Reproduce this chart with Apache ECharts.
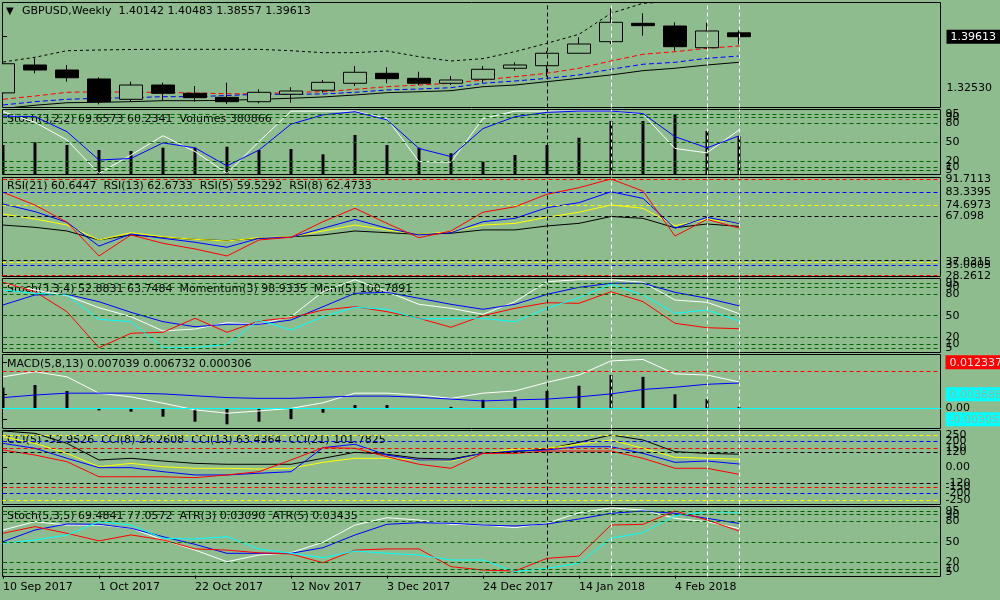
<!DOCTYPE html>
<html>
<head>
<meta charset="utf-8">
<script src="https://cdn.jsdelivr.net/npm/echarts@6/dist/echarts.min.js"></script>
<style>
html,body{margin:0;padding:0;background:#8fbc8f;}
#chart{width:1000px;height:600px;}
</style>
</head>
<body>
<div id="chart"></div>
<script>
// ---------- data ----------
const dates = ['10 Sep 2017','17 Sep 2017','24 Sep 2017','1 Oct 2017','8 Oct 2017','15 Oct 2017','22 Oct 2017','29 Oct 2017','5 Nov 2017','12 Nov 2017','19 Nov 2017','26 Nov 2017','3 Dec 2017','10 Dec 2017','17 Dec 2017','24 Dec 2017','31 Dec 2017','7 Jan 2018','14 Jan 2018','21 Jan 2018','28 Jan 2018','4 Feb 2018','11 Feb 2018','18 Feb 2018'];
const dateTickIdx = [0,3,6,9,12,15,18,21];
const markerWeeksBlack = [17];
const markerWeeksWhite = [19,22,23];

const open  = [1.3190,1.3573,1.3504,1.3381,1.3102,1.3298,1.3184,1.3129,1.3069,1.3171,1.3226,1.3322,1.3459,1.3390,1.3322,1.3377,1.3528,1.3563,1.3734,1.3893,1.4145,1.4108,1.3810,1.40142];
const high  = [1.3615,1.3665,1.3573,1.3404,1.3344,1.3330,1.3285,1.3330,1.3239,1.3267,1.3367,1.3559,1.3541,1.3481,1.3422,1.3559,1.3610,1.3765,1.3955,1.4351,1.4283,1.4159,1.4154,1.40483];
const low   = [1.3170,1.3459,1.3344,1.3033,1.3069,1.3092,1.3069,1.3037,1.3047,1.3055,1.3193,1.3285,1.3322,1.3298,1.3298,1.3330,1.3495,1.3412,1.3734,1.3861,1.3975,1.3769,1.3792,1.38557];
const close = [1.3590,1.3504,1.3398,1.3069,1.3298,1.3184,1.3124,1.3069,1.3198,1.3216,1.3335,1.3473,1.3385,1.3322,1.3367,1.3514,1.3573,1.3734,1.3861,1.4159,1.4113,1.3824,1.4040,1.39613];

const bandUpper = [1.3614,1.3679,1.3769,1.3779,1.3786,1.3788,1.3788,1.3788,1.3788,1.3769,1.3742,1.3742,1.3765,1.3687,1.3628,1.3660,1.3756,1.3871,1.3994,1.4283,1.4420,1.4445,1.4495,1.4510];
const maRed   = [1.3102,1.3147,1.3198,1.3206,1.3198,1.3198,1.3188,1.3179,1.3175,1.3198,1.3206,1.3239,1.3275,1.3298,1.3322,1.3367,1.3412,1.3459,1.3528,1.3628,1.3720,1.3756,1.3802,1.3834];
const maBlue  = [1.3024,1.3069,1.3102,1.3116,1.3124,1.3138,1.3138,1.3154,1.3171,1.3171,1.3175,1.3198,1.3230,1.3243,1.3261,1.3322,1.3353,1.3390,1.3436,1.3514,1.3583,1.3610,1.3665,1.3696];
const maBlack = [1.2976,1.3020,1.3055,1.3061,1.3069,1.3083,1.3083,1.3088,1.3102,1.3116,1.3134,1.3161,1.3193,1.3206,1.3220,1.3275,1.3298,1.3344,1.3390,1.3436,1.3495,1.3528,1.3573,1.3610];
const priceTicks = [1.32530, 1.39613];

const stoch1K = [99,82,53.6,0,29.5,60.5,35,0,51,100,100,100,88,19,18,88,100,100,100,100,95,40,33,69.6573];
const stoch1D = [92,91,67,21.5,24,49,41,12,37.5,79,94,99,86,40,27,72,91,98,100,100,96,59,41,60.2341];
const volumes = [290660,317700,290660,240550,230500,263600,263600,273600,240550,250570,197450,390890,290660,263600,207470,123280,190430,290660,363830,531200,531200,598350,430970,380866];
const stochLevels = [95,90,80,50,20,10,5];
// label order chosen so first/last labels never collide with their neighbours
const stochTicks = [50,95,90,10,5,20,80];

const rsi5  = [83.0,74.6,63.3,41.2,55.0,49.5,45.8,41.2,51.7,53.5,63.7,72.5,62.6,53.2,57.6,69.9,73.5,81.7,86.0,91.71,83.8,54.3,65.2,59.5292];
const rsi8  = [75.3,70.3,63.3,47.7,55.6,52.8,50.2,46.9,52.8,53.5,59.4,65.2,59.4,55.0,56.5,63.7,65.9,72.9,76.2,83.34,79.0,59.4,66.6,62.4733];
const rsi13 = [68.7,65.5,61.5,51.7,56.5,53.8,52.1,51.0,53.2,53.8,57.6,61.5,58.3,55.4,57.1,61.5,62.6,66.6,69.9,74.70,72.5,61.1,65.2,62.6733];
const rsi21 = [61.5,60.0,57.6,51.7,55.0,53.5,52.1,51.2,52.8,53.8,55.0,57.6,56.5,55.4,56.1,58.3,58.3,60.9,62.6,67.10,65.9,59.7,62.2,60.6447];
const rsiLevelsRed = [91.7113, 28.2612];
const rsiLevelsBlue = [83.3395, 35.0605];
const rsiLevelsYellow = [74.6973, 37.0315];
const rsiLevelsBlack = [67.098, 38.5];
const rsiTicks = [67.098, 91.7113, 83.3395, 37.0315, 35.0605, 28.2612, 74.6973];

const stoch2K = [95,85.7,77.8,61.1,48.6,28.8,31.5,40.3,38.0,48.6,83.3,100,83.3,65.8,60.3,51.9,69.4,97.2,100,100,96.4,71.8,68.6,52.8831];
const stoch2D = [64.9,78.8,79.7,69.4,54.7,41.7,34.7,38.0,38.0,44.0,62.5,81.1,82.5,74.2,65.8,58.9,65.8,79.7,89.4,95,95,82.5,74.2,63.7484];
const mom3 = [105.69,104.32,101.41,96.17,98.27,98.41,100.45,98.41,100.06,100.54,101.66,102.14,101.41,100.45,99.14,100.83,101.90,102.72,102.63,104.32,102.87,99.72,99.08,98.9335];
const mom5 = [105.12,104.66,104.42,101.00,100.67,97.01,97.01,97.49,100.90,99.50,101.37,102.69,102.41,101.05,101.14,101.14,100.67,102.55,104.04,105.93,104.42,101.85,102.31,100.7891];

const macdMain   = [0.0084,0.0098,0.0084,0.0040,0.0030,0.0013,-0.0005,-0.0014,-0.0008,-0.0001,0.0014,0.0040,0.0040,0.0035,0.0026,0.0040,0.0046,0.0069,0.0089,0.0127,0.0131,0.0092,0.0089,0.007039];
const macdSignal = [0.0028,0.0035,0.0040,0.0040,0.0040,0.0038,0.0033,0.0028,0.0026,0.0026,0.0029,0.0032,0.0032,0.0029,0.0024,0.0019,0.0022,0.0024,0.0030,0.0038,0.0050,0.0056,0.0064,0.006732];
const macdHist   = [0.0055,0.0062,0.00458,-0.00063,-0.0010,-0.00234,-0.0037,-0.0044,-0.0037,-0.0030,-0.00126,0.0008,0.0008,-0.0001,0.0003,0.0022,0.0030,0.0046,0.0060,0.0089,0.0084,0.0037,0.0024,0.000306];
const macdTicks = [0, 0.012337, -0.003054, 0.003688];

const cci21 = [280,262,185,57,70,49,31,24,24,24,70,116,101,70,65,108,121,141,193,249,211,121,108,101.7825];
const cci13 = [236,185,108,5,31,5,-7,-7,-12,-7,39,70,70,57,49,108,141,147,178,211,147,78,70,63.4364];
const cci8  = [185,147,70,-2,-2,-33,-58,-58,-45,-33,152,178,95,57,57,108,126,134,159,159,108,39,49,26.2608];
const cci5  = [134,95,44,-72,-72,-72,-79,-58,-33,57,152,147,82,24,-7,108,108,126,126,126,70,-7,-7,-52.9526];
const cciTicks = [0,250,200,150,-120,-150,-200,-250,120];

const stoch3K = [67.4,79.6,74.7,74.7,69.9,52.6,37.8,20.5,30.4,33.8,49.2,74.7,85.5,82.1,75.8,74.7,70.8,77.3,92.9,100,96.9,84.6,79.6,69.4841];
const stoch3D = [50.1,67.4,76.2,75.8,69.9,57.5,46.2,32.9,32.9,32.9,41.2,60.0,75.8,78.1,77.3,74.7,73.3,76.2,83.6,92.0,95.4,92.0,84.6,77.0572];
const atr3 = [0.0299,0.0328,0.0299,0.0266,0.0292,0.0270,0.0231,0.0226,0.0214,0.0209,0.0171,0.0226,0.0231,0.0231,0.0154,0.0139,0.0135,0.0190,0.0200,0.0335,0.0338,0.0396,0.0357,0.03090];
const atr5 = [0.02555,0.02648,0.02790,0.03168,0.03074,0.02697,0.02677,0.02742,0.02393,0.02271,0.02146,0.02336,0.02271,0.02222,0.02080,0.02080,0.01748,0.01845,0.01987,0.02697,0.02856,0.03338,0.03452,0.03435];

// ---------- layout ----------
const BG = '#8fbc8f';
const FONT = '"DejaVu Sans"';
const XMIN = -0.0156, XMAX = 29.2969;
const GL = 2.5, GW = 938;
const panes = [
  {top:2.5, height:105},
  {top:109.5, height:65},
  {top:177.5, height:99},
  {top:278.5, height:74},
  {top:354.5, height:74},
  {top:430.5, height:74},
  {top:506.5, height:70}
];
const pairs = arr => arr.map((v,i)=>[i,v]);

const grid = panes.map(p=>({left:GL, width:GW, top:p.top, height:p.height, show:true,
  containLabel:false, outerBoundsMode:'none',
  borderColor:'#000', borderWidth:1, backgroundColor:'transparent'}));

const xAxis = panes.map((p,i)=>{
  const last = i === panes.length-1;
  return {type:'value', gridIndex:i, min:XMIN, max:XMAX,
    axisLine:{show:false}, splitLine:{show:false},
    axisTick:{show:last, length:3, lineStyle:{color:'#000'}, customValues: dateTickIdx},
    axisLabel:{show:last, customValues: dateTickIdx, align:'left', margin:5, hideOverlap:false,
      showMinLabel:true, showMaxLabel:true,
      color:'#000', fontFamily:FONT, fontSize:11,
      formatter: v => dates[Math.round(v)] || ''}
  };
});

function labelCfg(ticks, formatter, extra){
  return Object.assign({show:true, customValues:ticks, margin:5, hideOverlap:false,
    showMinLabel:true, showMaxLabel:true,
    color:'#000', fontFamily:FONT, fontSize:11, formatter}, extra||{});
}
function rightAxis(gridIndex, min, max, ticks, label){
  return {type:'value', gridIndex, position:'right', min, max,
    axisLine:{show:false}, splitLine:{show:false},
    axisTick:{show:true, length:4, lineStyle:{color:'#000'}, customValues:ticks},
    axisLabel: label};
}
function hiddenAxis(gridIndex, min, max){
  return {type:'value', gridIndex, min, max, show:false, splitLine:{show:false}};
}

const yAxis = [
  rightAxis(0, 1.29894, 1.44308, priceTicks, labelCfg(priceTicks,
      v => Math.abs(v-1.39613)<1e-7 ? '{cur|1.39613}' : v.toFixed(5),
      {margin:6, rich:{cur:{backgroundColor:'#000', color:'#fff', fontFamily:FONT, fontSize:11, padding:[2,12,1,4]}}})),
  rightAxis(1, -1.77, 102.57, stochTicks, labelCfg(stochTicks, v => String(v))),
  hiddenAxis(1, -5011, 646480),
  rightAxis(2, 27.73, 92.70, rsiTicks, labelCfg(rsiTicks, v => String(v))),
  rightAxis(3, -1.11, 101.67, stochTicks, labelCfg(stochTicks, v => String(v))),
  hiddenAxis(3, 95.471, 106.243),
  hiddenAxis(3, 96.335, 106.743),
  rightAxis(4, -0.005529, 0.014429, macdTicks, labelCfg(macdTicks, v => {
        const s = v.toFixed(6);
        if (s === '0.012337') return '{r|0.012337}';
        if (s === '0.003688') return '{c|0.003688}';
        if (s === '-0.003054') return '{c|-0.003054}';
        return '0.00';
      }, {rich:{r:{backgroundColor:'#ff0000', color:'#f4e4e4', fontFamily:FONT, fontSize:11, padding:[2,12,1,4]},
            c:{backgroundColor:'#00ffff', color:'#8fb89a', fontFamily:FONT, fontSize:11, padding:[2,12,1,4]}}})),
  rightAxis(5, -285.4, 283.85, cciTicks, labelCfg(cciTicks, v => v === 0 ? '0.00' : String(v))),
  rightAxis(6, -1.33, 102.07, stochTicks, labelCfg(stochTicks, v => String(v))),
  hiddenAxis(6, 0.011108, 0.041558),
  hiddenAxis(6, 0.016117, 0.036)
];

const DASH = [4,3];
function vlines(){
  return markerWeeksBlack.map(w=>({xAxis:w, lineStyle:{color:'#000', type:DASH, width:1}}))
    .concat(markerWeeksWhite.map(w=>({xAxis:w, lineStyle:{color:'#fff', type:DASH, width:1}})));
}
function hlevels(values, color, type){
  return values.map(v=>({yAxis:v, lineStyle:{color, type: type||DASH, width:1}}));
}
function mk(data){
  return {silent:true, symbol:['none','none'], label:{show:false}, animation:false, data};
}
function line(name, data, xi, yi, color, extra){
  return Object.assign({name, type:'line', xAxisIndex:xi, yAxisIndex:yi, data:pairs(data),
    showSymbol:false, symbol:'none', clip:true, z:2,
    lineStyle:{color, width:1}, itemStyle:{color}}, extra||{});
}

const GREEN = '#006400';
const series = [
  // main
  line('bandUpper', bandUpper, 0, 0, '#000', {lineStyle:{color:'#000', width:1, type:[3,3]}}),
  line('maRed', maRed, 0, 0, '#ff0000', {lineStyle:{color:'#ff0000', width:1, type:[5,3]}}),
  line('maBlue', maBlue, 0, 0, '#0000ff', {lineStyle:{color:'#0000ff', width:1, type:[5,3]}}),
  line('maBlack', maBlack, 0, 0, '#000', {markLine: mk(vlines())}),
  {name:'GBPUSD', type:'candlestick', xAxisIndex:0, yAxisIndex:0, z:3, clip:true, barWidth:24,
    encode:{x:0, y:[1,2,3,4]},
    data: dates.map((d,i)=>[i, open[i], close[i], low[i], high[i]]),
    itemStyle:{color:BG, color0:'#000', borderColor:'#000', borderColor0:'#000', borderWidth:1}},
  // stoch(3,2,2) + volumes
  {name:'Volumes', type:'bar', xAxisIndex:1, yAxisIndex:2, data:pairs(volumes), barWidth:3, z:1,
    itemStyle:{color:'#000'}},
  line('Stoch1K', stoch1K, 1, 1, '#ffffff', {markLine: mk(hlevels(stochLevels, GREEN).concat(vlines()))}),
  line('Stoch1D', stoch1D, 1, 1, '#0000ff'),
  // RSI
  line('RSI21', rsi21, 2, 3, '#000', {markLine: mk(
    hlevels(rsiLevelsRed,'#ff0000').concat(hlevels(rsiLevelsBlue,'#0000ff'),
      hlevels(rsiLevelsYellow,'#ffff00'), hlevels(rsiLevelsBlack,'#000'), vlines()))}),
  line('RSI13', rsi13, 2, 3, '#ffff00'),
  line('RSI8', rsi8, 2, 3, '#0000ff'),
  line('RSI5', rsi5, 2, 3, '#ff0000'),
  // Stoch(3,3,4) + momentum
  line('Stoch2K', stoch2K, 3, 4, '#ffffff', {markLine: mk(hlevels(stochLevels, GREEN).concat(vlines()))}),
  line('Stoch2D', stoch2D, 3, 4, '#0000ff'),
  line('Mom3', mom3, 3, 5, '#ff0000'),
  line('Mom5', mom5, 3, 6, '#00ffff'),
  // MACD
  {name:'MACDHist', type:'bar', xAxisIndex:4, yAxisIndex:7, data:pairs(macdHist), barWidth:3, z:1,
    itemStyle:{color:'#000'}},
  line('MACD', macdMain, 4, 7, '#ffffff', {markLine: mk(
    hlevels([0.012337], '#ff0000').concat(hlevels([0.003688,-0.003054], '#00ffff', 'solid'), vlines()))}),
  line('Signal', macdSignal, 4, 7, '#0000ff'),
  // CCI
  line('CCI21', cci21, 5, 8, '#000', {markLine: mk(
    hlevels([250,-250],'#ffff00').concat(hlevels([200,-200],'#0000ff'), hlevels([150,-150],'#ff0000'),
      hlevels([120,-120],'#000'), vlines()))}),
  line('CCI13', cci13, 5, 8, '#ffff00'),
  line('CCI8', cci8, 5, 8, '#0000ff'),
  line('CCI5', cci5, 5, 8, '#ff0000'),
  // Stoch(5,3,5) + ATR
  line('Stoch3K', stoch3K, 6, 9, '#ffffff', {markLine: mk(hlevels(stochLevels, GREEN).concat(vlines()))}),
  line('Stoch3D', stoch3D, 6, 9, '#0000ff'),
  line('ATR3', atr3, 6, 10, '#ff0000'),
  line('ATR5', atr5, 6, 11, '#00ffff')
];

const f = '11px ' + FONT;
function txt(left, top, text){
  return {type:'text', left, top, z:0, silent:true, style:{text, font:f, fill:'#000'}};
}
const graphic = [
  // margin strip left of the plot frame (hides the part of the first candle outside the frame)
  {type:'rect', left:0, top:0, z:100, silent:true, shape:{width:2, height:600}, style:{fill:BG}},
  {type:'text', left:6, top:6, z:0, silent:true, style:{text:'\u25BC', font:'10px ' + FONT, fill:'#000'}},
  txt(22, 6, 'GBPUSD,Weekly  1.40142 1.40483 1.38557 1.39613'),
  txt(7, 114, 'Stoch(3,2,2) 69.6573 60.2341  Volumes 380866'),
  txt(7, 181, 'RSI(21) 60.6447  RSI(13) 62.6733  RSI(5) 59.5292  RSI(8) 62.4733'),
  txt(7, 283.5, 'Stoch(3,3,4) 52.8831 63.7484  Momentum(3) 98.9335  Mom(5) 100.7891'),
  txt(7, 359, 'MACD(5,8,13) 0.007039 0.006732 0.000306'),
  txt(7, 434.5, 'CCI(5) -52.9526  CCI(8) 26.2608  CCI(13) 63.4364  CCI(21) 101.7825'),
  txt(7, 511, 'Stoch(5,3,5) 69.4841 77.0572  ATR(3) 0.03090  ATR(5) 0.03435')
];

const chart = echarts.init(document.getElementById('chart'), null, {renderer:'canvas'});
chart.setOption({
  backgroundColor: BG,
  animation:false,
  textStyle:{fontFamily:FONT},
  grid, xAxis, yAxis, series, graphic
});
</script>
</body>
</html>
